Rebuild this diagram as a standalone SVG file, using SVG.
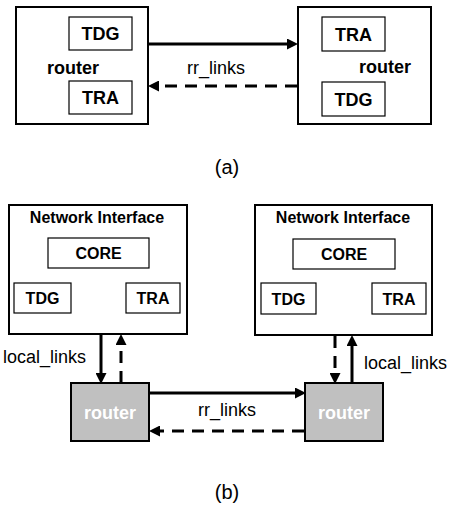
<svg xmlns="http://www.w3.org/2000/svg" width="460" height="512" viewBox="0 0 460 512">
<style>
.box{fill:#fff;stroke:#000;stroke-width:2}
.inner{fill:#fff;stroke:#000;stroke-width:1.2}
.rt{fill:#c0c0c0;stroke:#000;stroke-width:2}
.b{font-family:"Liberation Sans",Arial,sans-serif;font-weight:bold;fill:#000}
.r{font-family:"Liberation Sans",Arial,sans-serif;fill:#000}
.w{font-family:"Liberation Sans",Arial,sans-serif;font-weight:bold;fill:#fff;font-size:18px}
.c{text-anchor:middle}
.ln{stroke:#000;stroke-width:3;fill:none}
.d{stroke-dasharray:12 8}
</style>
<defs>
<marker id="ah" viewBox="0 0 10 10" refX="0" refY="5" markerWidth="11" markerHeight="11" markerUnits="userSpaceOnUse" orient="auto">
<path d="M0,0 L10,5 L0,10 z" fill="#000"/>
</marker>
</defs>
<rect width="460" height="512" fill="#fff"/>
<g id="a-router-left">
<rect class="box" x="16" y="7" width="132" height="117"/>
<rect class="inner" x="69" y="17" width="63" height="33"/>
<text class="b c" x="100.5" y="40" font-size="18">TDG</text>
<rect class="inner" x="69" y="81" width="63" height="33"/>
<text class="b c" x="100.5" y="104" font-size="18">TRA</text>
<text class="b" x="47" y="74" font-size="18">router</text>
</g>
<g id="a-router-right">
<rect class="box" x="298" y="7" width="133" height="117"/>
<rect class="inner" x="322" y="17" width="63" height="34"/>
<text class="b c" x="353.5" y="40.5" font-size="18">TRA</text>
<rect class="inner" x="322" y="82" width="63" height="34"/>
<text class="b c" x="353.5" y="105.5" font-size="18">TDG</text>
<text class="b" x="359" y="73" font-size="18">router</text>
</g>
<g id="b-ni-left">
<rect class="box" x="9" y="205" width="178" height="129"/>
<text class="b c" x="97" y="223" font-size="16">Network Interface</text>
<rect class="inner" x="48" y="238" width="101" height="30"/>
<text class="b c" x="98.5" y="259" font-size="16">CORE</text>
<rect class="inner" x="14" y="283" width="57" height="30"/>
<text class="b c" x="42.5" y="304" font-size="16">TDG</text>
<rect class="inner" x="126" y="283" width="54" height="30"/>
<text class="b c" x="153" y="304" font-size="16">TRA</text>
</g>
<g id="b-ni-right">
<rect class="box" x="255" y="205" width="177" height="130"/>
<text class="b c" x="343" y="223" font-size="16">Network Interface</text>
<rect class="inner" x="293" y="239" width="102" height="30"/>
<text class="b c" x="344" y="260" font-size="16">CORE</text>
<rect class="inner" x="261" y="283" width="55" height="31"/>
<text class="b c" x="288.5" y="304.5" font-size="16">TDG</text>
<rect class="inner" x="372" y="283" width="54" height="31"/>
<text class="b c" x="399" y="304.5" font-size="16">TRA</text>
</g>
<g id="b-router-left">
<rect class="rt" x="71" y="383" width="78" height="58"/>
<text class="w c" x="110" y="419">router</text>
</g>
<g id="b-router-right">
<rect class="rt" x="305" y="383" width="78" height="58"/>
<text class="w c" x="344" y="419">router</text>
</g>
<g id="connectors">
<line class="ln" x1="149" y1="44" x2="287" y2="44" marker-end="url(#ah)"/>
<line class="ln d" x1="297" y1="86" x2="159" y2="86" marker-end="url(#ah)"/>
<line class="ln" x1="101" y1="335" x2="101" y2="373" marker-end="url(#ah)"/>
<line class="ln d" x1="121" y1="383" x2="121" y2="345" marker-end="url(#ah)"/>
<line class="ln d" x1="335" y1="336" x2="335" y2="373" marker-end="url(#ah)"/>
<line class="ln" x1="352" y1="383" x2="352" y2="346" marker-end="url(#ah)"/>
<line class="ln" x1="150" y1="393" x2="295" y2="393" marker-end="url(#ah)"/>
<line class="ln d" x1="304" y1="431" x2="160" y2="431" marker-end="url(#ah)"/>
</g>
<text class="r c" x="216" y="74" font-size="18">rr_links</text>
<text class="r c" x="227" y="174" font-size="20">(a)</text>
<text class="r" x="3" y="363" font-size="18">local_links</text>
<text class="r" x="364" y="369" font-size="18">local_links</text>
<text class="r c" x="227" y="416" font-size="18">rr_links</text>
<text class="r c" x="227" y="499" font-size="20">(b)</text>
</svg>
